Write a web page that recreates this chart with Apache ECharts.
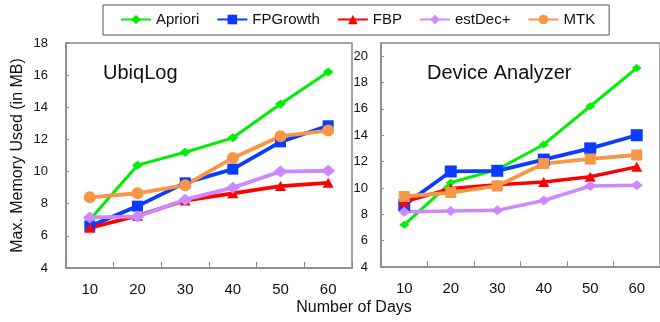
<!DOCTYPE html>
<html><head><meta charset="utf-8">
<script src="https://cdn.jsdelivr.net/npm/echarts@6/dist/echarts.min.js"></script>
<style>html,body{margin:0;padding:0;background:#fff}#c{width:660px;height:322px}</style>
</head><body><div id="c"></div>
<script>
const days = ['10', '20', '30', '40', '50', '60'];
const seriesNames = ['Apriori', 'FPGrowth', 'FBP', 'estDec+', 'MTK'];
const panelTitles = ['UbiqLog', 'Device Analyzer'];
const yAxisTitle = 'Max. Memory Used (in MB)';
const xAxisTitle = 'Number of Days';

const ubiqApriori  = [7.0, 10.4, 11.2, 12.1, 14.2, 16.2];
const ubiqFPGrowth = [6.6, 7.85, 9.3, 10.15, 11.85, 12.85];
const ubiqFBP      = [6.5, 7.25, 8.2, 8.65, 9.1, 9.3];
const ubiqEstDec   = [7.15, 7.2, 8.25, 9.0, 10.0, 10.05];
const ubiqMTK      = [8.4, 8.65, 9.15, 10.85, 12.2, 12.55];

const devApriori  = [7.2, 10.4, 11.4, 13.3, 16.2, 19.1];
const devFPGrowth = [8.7, 11.25, 11.3, 12.15, 13.0, 14.0];
const devFBP      = [8.95, 9.95, 10.25, 10.45, 10.85, 11.6];
const devEstDec   = [8.2, 8.25, 8.3, 9.05, 10.15, 10.2];
const devMTK      = [9.35, 9.65, 10.15, 11.85, 12.2, 12.5];

const colors = { 'Apriori': '#00ee00', 'FPGrowth': '#0a3cff', 'FBP': '#ff0000', 'estDec+': '#cc88ff', 'MTK': '#f79646' };
const FONT = "'Liberation Sans', Arial, sans-serif";
const AX = '#898989';

function mk(name, idx, data, symbol, size, width) {
  return {
    name: name, type: 'line', xAxisIndex: idx, yAxisIndex: idx, data: data,
    symbol: symbol, symbolSize: size, showAllSymbol: true,
    lineStyle: { color: colors[name], width: width },
    itemStyle: { color: colors[name] },
    emphasis: { disabled: true }, animation: false
  };
}

const series = [
  mk('Apriori', 0, ubiqApriori, 'diamond', [11, 9], 3),
  mk('FPGrowth', 0, ubiqFPGrowth, 'rect', 11, 3.8),
  mk('FBP', 0, ubiqFBP, 'triangle', [11, 10], 3.8),
  mk('estDec+', 0, ubiqEstDec, 'diamond', [14, 12], 3.8),
  mk('MTK', 0, ubiqMTK, 'circle', 12, 3.8),
  mk('Apriori', 1, devApriori, 'diamond', [10, 8], 3),
  mk('FPGrowth', 1, devFPGrowth, 'rect', 12, 3.8),
  mk('FBP', 1, devFBP, 'triangle', [11, 10], 3.5),
  mk('estDec+', 1, devEstDec, 'diamond', [12, 10], 3.5),
  mk('MTK', 1, devMTK, 'rect', 11, 3.8)
];

function xAx(gi) {
  return {
    type: 'category', gridIndex: gi, data: days, boundaryGap: true,
    axisLine: { show: true, lineStyle: { color: AX, width: 1.5 } },
    axisTick: { show: true, inside: true, length: 6, alignWithLabel: false, lineStyle: { color: AX, width: 1 } },
    axisLabel: { color: '#111', fontSize: 15, fontFamily: FONT, margin: 14 },
    splitLine: { show: false }
  };
}
function yAx(gi, max, margin) {
  return {
    type: 'value', gridIndex: gi, min: 4, max: max, interval: 2,
    axisLine: { show: true, lineStyle: { color: AX, width: 1.5 } },
    axisTick: { show: true, inside: true, length: 3, lineStyle: { color: AX, width: 1 } },
    axisLabel: { color: '#111', fontSize: 13, fontFamily: FONT, margin: margin, showMaxLabel: max === 18 },
    splitLine: { show: false }
  };
}

const yLeft = yAx(0, 18, 18);
yLeft.name = yAxisTitle;
yLeft.nameLocation = 'middle';
yLeft.nameGap = 40;
yLeft.nameTextStyle = { color: '#111', fontSize: 16, fontFamily: FONT };

const option = {
  backgroundColor: '#fff',
  animation: false,
  textStyle: { fontFamily: FONT },
  grid: [
    { left: 66, top: 43, width: 286, height: 225, show: true, borderColor: AX, borderWidth: 1.5, containLabel: false },
    { left: 381, top: 43, width: 292, height: 224, show: true, borderColor: AX, borderWidth: 1.5, containLabel: false }
  ],
  xAxis: [xAx(0), xAx(1)],
  yAxis: [yLeft, yAx(1, 21, 13)],
  legend: {
    data: seriesNames, left: 103, top: 5, orient: 'horizontal',
    itemWidth: 30, itemHeight: 12, itemGap: 17,
    padding: [7, 14, 8, 17],
    borderColor: '#555', borderWidth: 1,
    textStyle: { color: '#111', fontSize: 15, fontFamily: FONT }
  },
  title: [
    { text: panelTitles[0], left: 103, top: 63, textStyle: { fontSize: 20, fontWeight: 'normal', color: '#111', fontFamily: FONT }, padding: 0 },
    { text: panelTitles[1], left: 427, top: 63, textStyle: { fontSize: 20, fontWeight: 'normal', color: '#111', fontFamily: FONT }, padding: 0 },
    { text: xAxisTitle, left: 354, top: 300, textAlign: 'center', textStyle: { fontSize: 16, fontWeight: 'normal', color: '#111', fontFamily: FONT }, padding: 0 }
  ],
  series: series
};

const chart = echarts.init(document.getElementById('c'), null, { renderer: 'canvas' });
chart.setOption(option);
</script></body></html>
